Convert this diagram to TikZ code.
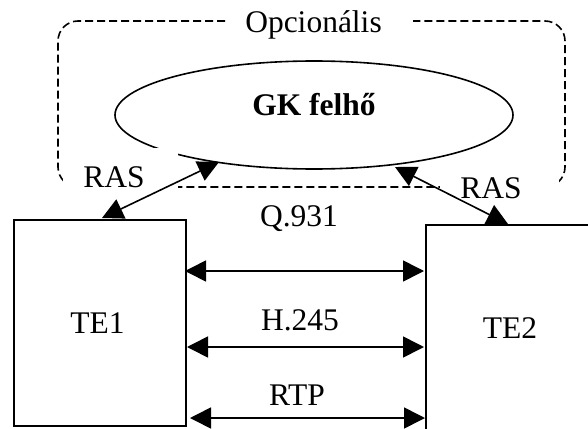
\documentclass[tikz,border=0pt]{standalone}
\usepackage{fontspec}
\setmainfont{Liberation Serif}
\usetikzlibrary{arrows.meta,shapes.geometric}
\tikzset{
  lbl/.style={anchor=base,inner sep=0pt,font=\fontsize{31.5}{38}\selectfont},
  tebox/.style={draw,line width=2.2pt,fill=white},
  dblarrow/.style={line width=1.6pt,{Triangle[length=21pt,width=21pt]}-{Triangle[length=21pt,width=21pt]}},
  optbox/.style={dash pattern=on 8pt off 4pt,line width=1.6pt,rounded corners=20pt},
  cover/.style={fill=white,draw=none}
}
\begin{document}
\begin{tikzpicture}[x=1pt,y=-1pt]
\useasboundingbox (0,0) rectangle (588,428);
\clip (0,0) rectangle (588,428);
% optional dashed frame
\draw[optbox] (225,21) -- (58,21) -- (58,187) -- (565,187) -- (565,21) -- (413,21);
% gatekeeper cloud
\node[draw,ellipse,line width=1.6pt,fill=white,minimum width=398pt,minimum height=108pt,inner sep=0pt] (gk) at (314,115) {};
% white areas behind the RAS labels
\fill[cover] (63,148) rectangle (178,202);
\fill[cover] (440,172) rectangle (559,215);
% labels
\node[lbl] (opc) at (313.5,33) {Opcionális};
\node[lbl] (gkt) at (314,115) {\bfseries GK felhő};
\node[lbl] (ras1) at (114,187) {RAS};
\node[lbl] (ras2) at (491,198) {RAS};
\node[lbl] (q931) at (299,226) {Q.931};
\node[lbl] (h245) at (300,330) {H.245};
\node[lbl] (rtp) at (297,405) {RTP};
% terminals
\node[tebox,minimum width=172pt,minimum height=206pt,anchor=north west,inner sep=0pt] (te1) at (13,219) {};
\node[tebox,minimum width=200pt,minimum height=230pt,anchor=north west,inner sep=0pt] (te2) at (425,224) {};
\node[lbl] (te1t) at (97.5,333) {TE1};
\node[lbl] (te2t) at (510,338) {TE2};
% connection points
\coordinate (r1a) at (102,218);
\coordinate (r1b) at (219,162);
\coordinate (r2a) at (395,167);
\coordinate (r2b) at (508,224);
\coordinate (qa) at (185,271);
\coordinate (qb) at (424,271);
\coordinate (ha) at (187,347);
\coordinate (hb) at (424,347);
\coordinate (ra) at (190,418);
\coordinate (rb) at (425,418);
% connectors
\draw[dblarrow] (r1a) -- (r1b);
\draw[dblarrow] (r2a) -- (r2b);
\draw[dblarrow] (qa) -- (qb);
\draw[dblarrow] (ha) -- (hb);
\draw[dblarrow] (ra) -- (rb);
\end{tikzpicture}
\end{document}
